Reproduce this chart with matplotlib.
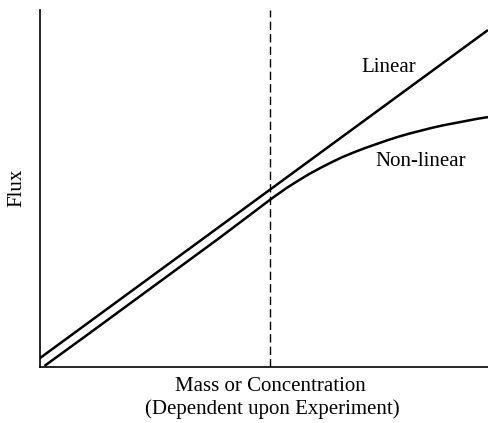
import matplotlib.pyplot as plt

plt.rcParams['font.family'] = ['Liberation Serif', 'DejaVu Serif']

# data (arbitrary units)
lin_x = [0.0, 10.0]
lin_y = [0.25, 9.44]

nl_x = [0.1, 1.0, 2.0, 3.0, 4.0, 5.13, 5.25, 5.5, 5.75, 6.0, 6.25, 6.5, 6.75, 7.0,
        7.25, 7.5, 7.75, 8.0, 8.25, 8.5, 8.75, 9.0, 9.25, 9.5, 9.75, 10.0]
nl_y = [0.03, 0.85, 1.77, 2.69, 3.61, 4.68, 4.79, 5.01, 5.21, 5.40, 5.57, 5.73, 5.88, 6.01,
        6.13, 6.24, 6.35, 6.45, 6.54, 6.62, 6.70, 6.77, 6.83, 6.89, 6.95, 7.00]

threshold = 5.13

fig = plt.figure(figsize=(4.88, 4.23), dpi=100)
ax = fig.add_axes([40 / 488, 1 - 367 / 423, 448 / 488, 357 / 423])

ax.plot(lin_x, lin_y, color='black', lw=1.8, solid_capstyle='butt')
ax.plot(nl_x, nl_y, color='black', lw=1.8, solid_capstyle='butt', solid_joinstyle='round')
ax.axvline(threshold, color='black', lw=1.0, ls=(0, (6, 3)))

ax.set_xlim(0, 10)
ax.set_ylim(0, 10)
ax.set_xticks([])
ax.set_yticks([])
ax.spines['top'].set_visible(False)
ax.spines['right'].set_visible(False)
ax.spines['left'].set_linewidth(1.2)
ax.spines['bottom'].set_linewidth(1.2)

ax.text(7.78, 8.4, 'Linear', fontsize=15, ha='center', va='center')
ax.text(8.5, 5.76, 'Non-linear', fontsize=15, ha='center', va='center')

fig.text(17 / 488, 1 - 188 / 423, 'Flux', fontsize=15, rotation=90, ha='center', va='center')
fig.text(270 / 488, 1 - 386 / 423, 'Mass or Concentration', fontsize=15, ha='center', va='center')
fig.text(272 / 488, 1 - 409 / 423, '(Dependent upon Experiment)', fontsize=15, ha='center', va='center')

fig.savefig('out.png', dpi=100)
